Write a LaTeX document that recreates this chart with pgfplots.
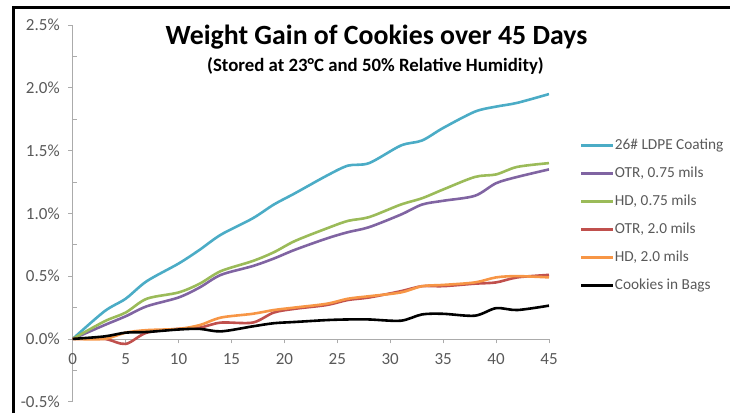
\documentclass[border=0pt]{standalone}
\usepackage{fontspec}
\setmainfont{Carlito}
\usepackage{pgfplots}
\usepackage{pgfplotstable}
\pgfplotsset{compat=1.18}

\definecolor{ldpe}{HTML}{4BACC6}
\definecolor{otrthin}{HTML}{8064A2}
\definecolor{hdthin}{HTML}{9BBB59}
\definecolor{otrthick}{HTML}{C0504D}
\definecolor{hdthick}{HTML}{F79646}
\definecolor{axisgray}{HTML}{ABABAB}
\definecolor{tickgray}{HTML}{595959}

% weight gain in percent, by storage day
\pgfplotstableread{
day  ldpe  otra  hda   otrb  hdb   bags
0    0     0     0     0     0     0
3    0.22  0.11  0.14  0.00  0.00  0.02
5    0.32  0.18  0.21  -0.04 0.05  0.05
7    0.46  0.26  0.32  0.05  0.07  0.055
10   0.60  0.33  0.37  0.08  0.08  0.075
12   0.71  0.41  0.44  0.09  0.11  0.08
14   0.83  0.51  0.54  0.13  0.17  0.06
17   0.96  0.58  0.62  0.13  0.20  0.10
19   1.07  0.64  0.69  0.21  0.23  0.125
21   1.16  0.71  0.78  0.24  0.25  0.135
24   1.30  0.80  0.88  0.27  0.28  0.15
26   1.38  0.85  0.94  0.31  0.32  0.155
28   1.40  0.89  0.97  0.33  0.34  0.155
31   1.54  0.99  1.07  0.38  0.37  0.145
33   1.58  1.07  1.12  0.42  0.42  0.195
35   1.68  1.10  1.19  0.42  0.43  0.20
38   1.81  1.14  1.29  0.44  0.45  0.185
40   1.85  1.24  1.31  0.45  0.49  0.245
42   1.88  1.29  1.37  0.49  0.50  0.23
45   1.95  1.35  1.40  0.51  0.49  0.265
}\gain

\begin{document}
\begin{tikzpicture}[x=1pt,y=1pt]
\useasboundingbox (0,0) rectangle (730,413);
\draw[line width=3pt] (13.3,0) -- (13.3,405.7) -- (730,405.7);

\node[anchor=base, font=\bfseries\fontsize{27.8}{32}\selectfont] at (376.5,368) {Weight Gain of Cookies over 45 Days};
\node[anchor=base, font=\bfseries\fontsize{18.8}{22}\selectfont] at (375.5,341.5) {(Stored at 23°C and 50\% Relative Humidity)};

\begin{axis}[
  at={(72.7pt,11.3pt)}, anchor=south west,
  scale only axis, width=476.3pt, height=376.7pt,
  xmin=0, xmax=45, ymin=-0.5, ymax=2.5,
  axis x line=middle, axis y line=left,
  axis line style={draw=axisgray, line width=0.8pt, -},
  xtick={0,5,...,45},
  xticklabels={0,5,10,15,20,25,30,35,40,45},
  ytick={-0.5,0,0.5,1,1.5,2,2.5},
  yticklabels={-0.5\%,0.0\%,0.5\%,1.0\%,1.5\%,2.0\%,2.5\%},
  extra y ticks={-0.25,0.25,0.75,1.25,1.75,2.25},
  extra y tick labels={},
  extra y tick style={tick align=inside},
  tick align=outside, major tick length=4.5pt,
  tick style={draw=axisgray, line width=0.8pt},
  hide obscured x ticks=false, hide obscured y ticks=false,
  ticklabel style={font=\fontsize{17}{20}\selectfont, text=tickgray},
  xticklabel style={yshift=-7pt},
  yticklabel style={xshift=-5pt},
  legend cell align=left,
  legend image code/.code={\draw[#1] (0pt,0pt) -- (32pt,0pt);},
  legend style={at={(1.058,0.705)}, anchor=north west, draw=none, fill=none,
    font=\fontsize{15.3}{18}\selectfont, text=tickgray, row sep=14pt,
    nodes={inner xsep=0.5pt, inner ysep=0pt, text height=11pt, text depth=3pt}},
  every axis plot/.append style={line width=2.6pt, smooth, tension=0.5, no marks},
]
\addplot[ldpe] table[x=day, y=ldpe] {\gain};
\addlegendentry{26\# LDPE Coating}
\addplot[otrthin] table[x=day, y=otra] {\gain};
\addlegendentry{OTR, 0.75 mils}
\addplot[hdthin] table[x=day, y=hda] {\gain};
\addlegendentry{HD, 0.75 mils}
\addplot[otrthick] table[x=day, y=otrb] {\gain};
\addlegendentry{OTR, 2.0 mils}
\addplot[hdthick] table[x=day, y=hdb] {\gain};
\addlegendentry{HD, 2.0 mils}
\addplot[black] table[x=day, y=bags] {\gain};
\addlegendentry{Cookies in Bags}
\end{axis}
\end{tikzpicture}
\end{document}
